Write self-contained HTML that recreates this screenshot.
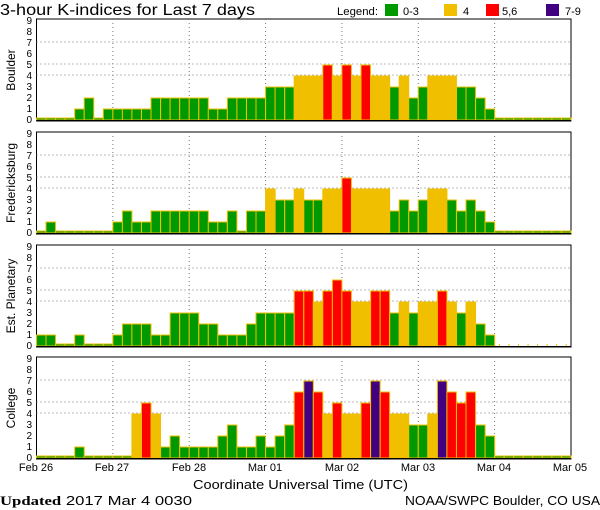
<!DOCTYPE html>
<html><head><meta charset="utf-8"><style>
html,body{margin:0;padding:0;background:#fff;}
svg{display:block;font-family:"Liberation Sans",sans-serif;}
</style></head><body>
<svg id="s" width="600" height="510" viewBox="0 0 600 510" xmlns="http://www.w3.org/2000/svg" xml:space="preserve">
<text x="0" y="15" font-size="16" textLength="255" lengthAdjust="spacingAndGlyphs">3-hour K-indices for Last 7 days</text>
<text x="337" y="15" font-size="11" textLength="41" lengthAdjust="spacingAndGlyphs">Legend:</text>
<rect x="385" y="4" width="13" height="12" fill="#009900"/><text x="403" y="15" font-size="11">0-3</text>
<rect x="444" y="4" width="13" height="12" fill="#f0c000"/><text x="463" y="15" font-size="11">4</text>
<rect x="486" y="4" width="13" height="12" fill="#ff0000"/><text x="502" y="15" font-size="11">5,6</text>
<rect x="546" y="4" width="13" height="12" fill="#400080"/><text x="565" y="15" font-size="11">7-9</text>
<g font-size="12">
<text transform="translate(15,70) rotate(-90)" text-anchor="middle">Boulder</text>
<text transform="translate(15,183) rotate(-90)" text-anchor="middle">Fredericksburg</text>
<text transform="translate(15,296) rotate(-90)" text-anchor="middle">Est. Planetary</text>
<text transform="translate(15,408) rotate(-90)" text-anchor="middle">College</text>
</g>
<g id="p"></g>
<g font-size="11" text-anchor="middle">
<text x="36" y="471">Feb 26</text><text x="112" y="471">Feb 27</text><text x="189" y="471">Feb 28</text>
<text x="265" y="471">Mar 01</text><text x="342" y="471">Mar 02</text><text x="418" y="471">Mar 03</text>
<text x="494" y="471">Mar 04</text><text x="570" y="471">Mar 05</text>
</g>
<text x="193" y="489" font-size="13" textLength="215" lengthAdjust="spacingAndGlyphs">Coordinate Universal Time (UTC)</text>
<text x="0" y="505" font-size="13" textLength="192" lengthAdjust="spacingAndGlyphs"><tspan font-family="Liberation Serif" font-weight="bold">Updated</tspan> 2017 Mar  4 0030</text>
<text x="405" y="505" font-size="12.5" textLength="195" lengthAdjust="spacingAndGlyphs">NOAA/SWPC Boulder, CO USA</text>
</svg>
<script>
var D=[
[0,0,0,0,1,2,0,1,1,1,1,1,2,2,2,2,2,2,1,1,2,2,2,2,3,3,3,4,4,4,5,4,5,4,5,4,4,3,4,2,3,4,4,4,3,3,2,1,0,0,0,0,0,0,0,0],
[0,1,0,0,0,0,0,0,1,2,1,1,2,2,2,2,2,2,1,1,2,0,2,2,4,3,3,4,3,3,4,4,5,4,4,4,4,2,3,2,3,4,4,3,2,3,2,1,0,0,0,0,0,0,0,0],
[1,1,0,0,1,0,0,0,1,2,2,2,1,1,3,3,3,2,2,1,1,1,2,3,3,3,3,5,5,4,5,6,5,4,4,5,5,3,4,3,4,4,5,4,3,4,2,1,-1,-1,-1,-1,-1,-1,-1,-1],
[0,0,0,0,1,0,0,0,0,0,4,5,4,1,2,1,1,1,1,2,3,1,1,2,1,2,3,6,7,6,4,5,4,4,5,7,6,4,4,3,3,4,7,6,5,6,3,2,0,0,0,0,0,0,0,0]];
var tops=[19,132,245,357],L=36.5,R=571,W=(R-L)/56,u=11,h="";
function col(v){return v>=7?"#400080":v>=5?"#ff0000":v==4?"#f0c000":"#009900";}
for(var p=0;p<4;p++){var t=tops[p],b=t+100;
 h+='<rect x="'+L+'" y="'+t+'" width="'+(R-L)+'" height="102" fill="none" stroke="#000" stroke-width="1"/>';
 [4,5,7].forEach(function(k){var y=b-k*u;h+='<line x1="'+L+'" x2="'+R+'" y1="'+y+'" y2="'+y+'" stroke="#777" stroke-dasharray="1,3"/>';});
 for(var d=1;d<7;d++){var x=L+d*8*W;h+='<line x1="'+x+'" x2="'+x+'" y1="'+t+'" y2="'+(b+2)+'" stroke="#777" stroke-dasharray="1,3"/>';}
 for(var k=0;k<=9;k++){h+='<text x="32" y="'+(b-k*u+4)+'" font-size="10" text-anchor="end">'+k+'</text>';}
 for(var i=0;i<56;i++){var v=D[p][i],x=L+i*W;
  if(v<0){h+='<line x1="'+(x+W/2)+'" x2="'+(x+W/2)+'" y1="'+(b-1)+'" y2="'+(b+1)+'" stroke="#f0c000"/>';continue;}
  var hh=v==0?2:v*u;
  h+='<rect x="'+x.toFixed(1)+'" y="'+(b-hh+1)+'" width="'+W.toFixed(2)+'" height="'+hh+'" fill="'+col(v)+'" stroke="#f0c000" stroke-width="1"/>';}
 h+='<line x1="'+L+'" x2="'+R+'" y1="'+(b+1.5)+'" y2="'+(b+1.5)+'" stroke="#000" stroke-width="1"/>';
}
document.getElementById("p").innerHTML=h;
</script>
</body></html>
